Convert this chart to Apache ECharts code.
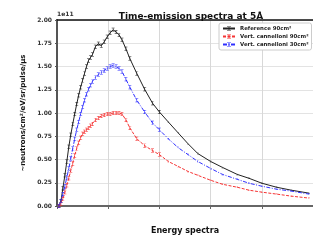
<!DOCTYPE html>
<html><head><meta charset="utf-8">
<script src="https://cdn.jsdelivr.net/npm/echarts@6/dist/echarts.min.js"></script>
<style>html,body{margin:0;padding:0;background:#fff}#c{width:313px;height:240px}</style>
</head><body><div id="c"></div>
<script>
// x positions (arbitrary energy-bin units; axis ticks every 1, labels not shown in reference)
const xValues = [0.038,0.077,0.115,0.154,0.192,0.231,0.269,0.308,0.346,0.385,0.423,0.462,0.5,0.538,0.577,0.615,0.654,0.692,0.75,0.808,0.865,0.923,0.981,1.038,1.096,1.154,1.212,1.269,1.346,1.423,1.558,1.712,1.865,2.0,2.173,2.365,2.558,2.75,3.0,3.231,3.519,3.75,4.0,4.288,4.577,4.923];
// values in units of 1e11
const referenceValues = [0,0.053,0.191,0.33,0.479,0.638,0.766,0.883,0.989,1.096,1.191,1.277,1.351,1.426,1.5,1.564,1.596,1.628,1.713,1.745,1.723,1.766,1.819,1.862,1.894,1.872,1.84,1.787,1.691,1.585,1.426,1.255,1.106,1.011,0.904,0.787,0.67,0.564,0.479,0.415,0.34,0.298,0.245,0.202,0.17,0.138];
const cannelloni90Values = [0,0.021,0.074,0.149,0.223,0.298,0.383,0.457,0.543,0.617,0.681,0.734,0.777,0.798,0.819,0.84,0.862,0.883,0.926,0.947,0.968,0.979,0.989,0.989,1.0,1.0,1.0,0.989,0.926,0.84,0.723,0.649,0.596,0.553,0.479,0.426,0.372,0.33,0.277,0.234,0.202,0.17,0.149,0.128,0.106,0.085];
const cannelloni30Values = [0,0.053,0.128,0.213,0.309,0.404,0.511,0.617,0.723,0.819,0.904,0.989,1.064,1.138,1.202,1.255,1.298,1.34,1.383,1.415,1.436,1.457,1.479,1.5,1.511,1.5,1.479,1.447,1.362,1.277,1.138,1.011,0.894,0.819,0.723,0.628,0.553,0.479,0.404,0.34,0.287,0.245,0.213,0.181,0.16,0.128];
const seriesNames = ['Reference 90cm\u00b2','Vert. cannelloni 90cm\u00b2','Vert. cannelloni 30cm\u00b2'];
const yTicks = [0,0.25,0.5,0.75,1.0,1.25,1.5,1.75,2.0];

const pair = vals => xValues.map((x,i)=>[x, vals[i]]);
const ibeam = 'path://M0,0H3V0.6H1.8V4.4H3V5H0V4.4H1.2V0.6H0Z';
const symSize = v => v[0] <= 2.05 ? [3,4] : [1.5,1.5];
const font = 'DejaVu Sans';
const chart = echarts.init(document.getElementById('c'));
chart.setOption({
  animation:false,
  textStyle:{fontFamily:font},
  title:{text:'Time-emission spectra at 5\u00c5', left:186, top:7, textAlign:'center',
    textStyle:{fontSize:9, fontWeight:'bold', color:'#111', fontFamily:font}},
  graphic:[{type:'text', left:57, top:11, style:{text:'1e11', fontSize:6, fontWeight:'bold', fill:'#333', fontFamily:font}}],
  legend:{left:219, top:23, orient:'vertical', itemGap:3, itemWidth:12, itemHeight:5,
    padding:[3,3,3,3], borderColor:'#ccc', borderWidth:1, borderRadius:2, backgroundColor:'#fff',
    textStyle:{fontSize:5.4, fontWeight:'bold', color:'#222', fontFamily:font},
    data:seriesNames},
  grid:{left:57, top:20, bottom:32, right:-4},
  xAxis:[{type:'value', min:0, max:5, interval:1, name:'Energy spectra', nameLocation:'middle', nameGap:21,
    nameTextStyle:{fontSize:8, fontWeight:'bold', color:'#111', fontFamily:font},
    axisLabel:{show:false},
    axisLine:{lineStyle:{color:'#666', width:2}},
    axisTick:{show:true, length:3, lineStyle:{color:'#666'}},
    splitLine:{show:true, lineStyle:{color:'#d8d8d8', width:1}}},
    {type:'value', position:'top', min:0, max:5, axisLabel:{show:false}, axisTick:{show:false}, splitLine:{show:false},
    axisLine:{show:true, lineStyle:{color:'#111', width:1.5}}}],
  yAxis:{type:'value', min:0, max:2, interval:0.25,
    name:'~neutrons/cm\u00b2/eV/sr/pulse/\u03bcs', nameLocation:'middle', nameGap:27,
    nameTextStyle:{fontSize:7, fontWeight:'bold', color:'#111', fontFamily:font},
    axisLabel:{fontSize:6, fontWeight:'bold', color:'#333', margin:5, fontFamily:font,
      formatter:v=> yTicks.includes(v) ? v.toFixed(2) : ''},
    axisLine:{show:true, lineStyle:{color:'#555', width:2}},
    axisTick:{show:true, length:2, lineStyle:{color:'#555'}},
    splitLine:{show:true, lineStyle:{color:'#e3e3e3', width:1}}},
  series:[
    {name:seriesNames[0], type:'line', data:pair(referenceValues), color:'#222',
      symbol:ibeam, symbolSize:symSize, lineStyle:{width:1, color:'#222'}, itemStyle:{color:'#222'}},
    {name:seriesNames[1], type:'line', data:pair(cannelloni90Values), color:'#f53434',
      symbol:ibeam, symbolSize:symSize, lineStyle:{width:1, type:[3,1.5], color:'#f53434'}, itemStyle:{color:'#f53434'}},
    {name:seriesNames[2], type:'line', data:pair(cannelloni30Values), color:'#3030ff',
      symbol:ibeam, symbolSize:symSize, lineStyle:{width:1, type:[4,1.5,1,1.5], color:'#3030ff'}, itemStyle:{color:'#3030ff'}}
  ]
});
</script></body></html>
